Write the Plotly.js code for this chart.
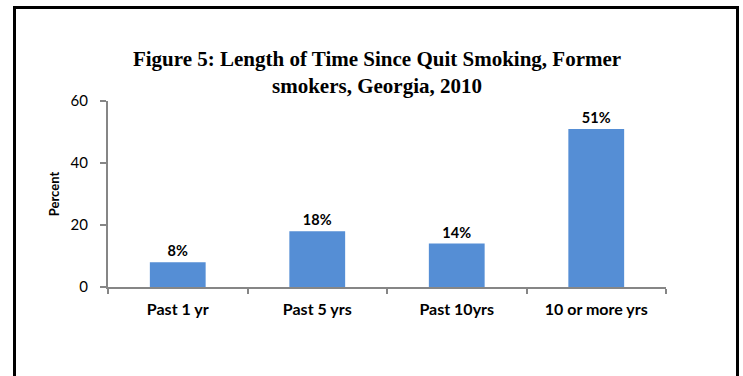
<!DOCTYPE html>
<html>
<head>
<meta charset="utf-8">
<script src="https://cdn.plot.ly/plotly-3.0.1.min.js"></script>
<style>
  html, body { margin: 0; padding: 0; background: #ffffff; overflow: hidden; }
  #wrap { position: relative; width: 743px; height: 376px; overflow: hidden; }
  #chart { position: absolute; left: 0; top: 0; width: 743px; height: 376px; }
  #frame {
    position: absolute; left: 13px; top: 6px; width: 720px; height: 420px;
    border: 3px solid #000000; pointer-events: none;
  }
</style>
</head>
<body>
<div id="wrap">
  <div id="chart"></div>
  <div id="frame"></div>
</div>
<script>
// Time since quitting, former smokers (percent)
const categories = ['Past 1 yr', 'Past 5 yrs', 'Past 10yrs', '10 or more yrs'];
const percentValues = [8, 18, 14, 51];
const yTickValues = [0, 20, 40, 60];

const axisGray = '#868686';
const sans = 'Lato, "Open Sans", sans-serif';

const trace = {
  type: 'bar',
  x: categories,
  y: percentValues,
  marker: { color: '#558ED5', line: { width: 0 } },
  width: 0.4,
  text: percentValues.map(v => v + '%'),
  textposition: 'outside',
  cliponaxis: false,
  textfont: { family: sans, size: 14.5, color: '#000000', weight: 'bold' },
  hoverinfo: 'skip'
};

const layout = {
  width: 743,
  height: 376,
  margin: { l: 108, r: 77, t: 101, b: 89 },
  paper_bgcolor: '#ffffff',
  plot_bgcolor: '#ffffff',
  showlegend: false,
  title: {
    text: 'Figure 5: Length of Time Since Quit Smoking, Former<br>smokers, Georgia, 2010',
    font: { family: '"Liberation Serif", "Times New Roman", serif', size: 21, color: '#000000', weight: 'bold' },
    x: 377 / 743,
    xanchor: 'center',
    xref: 'container',
    yref: 'container',
    y: 1 - 66 / 376,
    yanchor: 'top'
  },
  xaxis: {
    type: 'category',
    showline: true,
    linecolor: axisGray,
    linewidth: 2,
    ticks: 'outside',
    tickson: 'boundaries',
    ticklen: 5,
    tickwidth: 2,
    tickcolor: axisGray,
    ticklabelstandoff: 7,
    showgrid: false,
    zeroline: false,
    tickfont: { family: sans, size: 16, color: '#000000', weight: 'bold' },
    fixedrange: true
  },
  yaxis: {
    range: [0, 60],
    tickvals: yTickValues,
    ticktext: yTickValues.map(String),
    showline: true,
    linecolor: axisGray,
    linewidth: 2,
    ticks: 'outside',
    ticklen: 6,
    tickwidth: 2,
    tickcolor: axisGray,
    ticklabelstandoff: 9,
    showgrid: false,
    zeroline: false,
    tickfont: { family: sans, size: 15, color: '#000000' },
    title: {
      text: 'Percent',
      font: { family: sans, size: 13, color: '#000000', weight: 'bold' },
      standoff: 8
    },
    fixedrange: true
  }
};

Plotly.newPlot('chart', [trace], layout, { displayModeBar: false, staticPlot: true });
</script>
</body>
</html>
